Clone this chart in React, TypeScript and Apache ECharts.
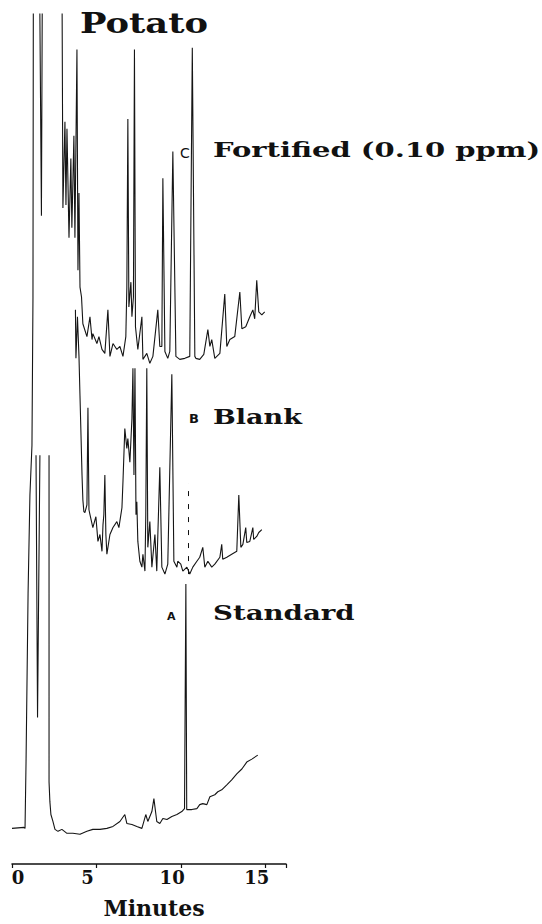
import React, { useEffect, useRef } from "react";
import * as echarts from "echarts";

// Chromatograms: [retention time (min), detector signal (arbitrary units, stacked)]
// null signal = pen off-scale (trace broken)
const standardTrace: [number, number | null][] = [
  [0, 36], [0.71, 37], [0.77, 36], [0.83, 103], [0.95, 273], [1.06, 373], [1.18, 423],
  [1.24, 573], [1.26, 858], [1.27, 920], [1.3, null],
  [1.42, 413], [1.51, 148], [1.65, 413], [1.8, null],
  [2.19, 413], [2.19, 83], [2.24, 63], [2.3, 50], [2.42, 43], [2.54, 35], [2.72, 33],
  [2.95, 35], [3.25, 31], [3.6, 31], [4.02, 30], [4.43, 33], [4.78, 35], [5.2, 35],
  [5.61, 36], [5.97, 38], [6.38, 43], [6.67, 50], [6.79, 41], [7.09, 40], [7.38, 38],
  [7.68, 36], [7.91, 50], [8.03, 43], [8.27, 53], [8.39, 66], [8.56, 43], [8.74, 41],
  [8.92, 46], [9.16, 45], [9.45, 48], [9.75, 50], [10.04, 53], [10.2, 56], [10.28, 283],
  [10.33, 55], [10.63, 55], [10.93, 56], [11.1, 60], [11.28, 61], [11.52, 60], [11.7, 68],
  [11.99, 70], [12.17, 73], [12.4, 75], [12.7, 80], [12.99, 85], [13.29, 91], [13.59, 96],
  [13.88, 103], [14.18, 106], [14.53, 110],
];

const blankTrace: [number, number][] = [
  [3.75, 560], [3.78, 511], [3.87, 553], [3.96, 513], [4.02, 473], [4.08, 433], [4.14, 393],
  [4.19, 368], [4.25, 356], [4.31, 355], [4.43, 363], [4.49, 461], [4.55, 358], [4.61, 353],
  [4.78, 340], [4.96, 351], [5.08, 326], [5.2, 333], [5.32, 316], [5.38, 343], [5.43, 353],
  [5.49, 393], [5.55, 333], [5.61, 313], [5.79, 333], [5.97, 340], [6.2, 346], [6.32, 340],
  [6.5, 360], [6.56, 386], [6.67, 440], [6.79, 420], [6.85, 430], [6.97, 406], [7.09, 450],
  [7.15, 501], [7.21, 393], [7.27, 501], [7.33, 353], [7.38, 366], [7.44, 326], [7.56, 306],
  [7.68, 300], [7.74, 313], [7.86, 296], [7.91, 353], [7.97, 501], [8.03, 320], [8.15, 346],
  [8.27, 300], [8.45, 333], [8.56, 296], [8.74, 401], [8.86, 300], [9.04, 293], [9.21, 303],
  [9.45, 495], [9.57, 306], [9.75, 300], [9.8, 306], [9.98, 303], [10.1, 296], [10.34, 300],
  [10.51, 293], [10.69, 300], [10.93, 306], [11.1, 310], [11.28, 320], [11.4, 300],
  [11.58, 306], [11.81, 300], [11.99, 303], [12.29, 310], [12.4, 323], [12.46, 308],
  [12.7, 310], [12.99, 313], [13.29, 316], [13.41, 373], [13.53, 320], [13.65, 323],
  [13.82, 340], [13.88, 325], [14.06, 326], [14.24, 340], [14.29, 328], [14.47, 331],
  [14.59, 335], [14.77, 338],
];

const fortifiedTrace: [number, number][] = [
  [1.62, 920], [1.74, 655], [1.8, 920], [2.95, 920], [3.01, 663], [3.13, 750], [3.19, 666],
  [3.25, 743], [3.37, 633], [3.48, 713], [3.54, 643], [3.66, 736], [3.72, 633], [3.84, 823],
  [3.9, 600], [3.96, 678], [4.02, 583], [4.11, 573], [4.19, 546], [4.43, 533], [4.61, 553],
  [4.73, 530], [4.78, 536], [5.02, 526], [5.14, 533], [5.32, 520], [5.49, 516], [5.67, 560],
  [5.79, 513], [5.97, 526], [6.2, 520], [6.38, 523], [6.56, 513], [6.73, 533], [6.79, 583],
  [6.85, 753], [6.91, 563], [7.03, 588], [7.09, 553], [7.18, 573], [7.24, 823], [7.3, 543],
  [7.44, 520], [7.68, 553], [7.74, 510], [7.97, 516], [8.15, 506], [8.33, 513], [8.62, 560],
  [8.74, 523], [8.86, 523], [8.92, 693], [9.04, 518], [9.21, 511], [9.33, 518], [9.51, 720],
  [9.69, 513], [9.92, 510], [10.22, 511], [10.51, 513], [10.66, 825], [10.81, 513],
  [10.87, 511], [11.1, 510], [11.34, 515], [11.58, 540], [11.7, 523], [11.81, 530],
  [11.99, 511], [12.29, 516], [12.58, 576], [12.7, 523], [12.88, 530], [13.17, 533],
  [13.47, 578], [13.59, 541], [13.82, 543], [14.06, 553], [14.24, 560], [14.35, 551],
  [14.47, 590], [14.59, 558], [14.77, 555], [14.94, 558],
];

// Expected analyte retention time marked on the blank
const blankMarker: [number, number, number] = [10.4, 293, 385];

const xTickValues = [0, 5, 10, 15];
const xMin = 0;
const xMax = 16.2;
const yMax = 859;

const FONT = "'DejaVu Serif', 'Liberation Serif', serif";

export default function App() {
  const ref = useRef<HTMLDivElement>(null);

  useEffect(() => {
    document.body.style.margin = "0";
    if (!ref.current) return;
    const chart = echarts.init(ref.current, undefined, { renderer: "svg" });
    const toData = (arr: [number, number | null][]) =>
      arr.map(([t, v]) => [t, v === null ? "-" : v]);
    const lineCommon = {
      type: "line" as const,
      showSymbol: false,
      symbol: "none",
      clip: true,
      connectNulls: false,
      lineStyle: { color: "#151515", width: 1.1 },
      itemStyle: { color: "#151515" },
      silent: true,
    };
    chart.setOption({
      animation: false,
      backgroundColor: "#ffffff",
      grid: { left: 12, top: 14, width: 274, height: yMax, containLabel: false },
      xAxis: {
        type: "value",
        min: xMin,
        max: xMax,
        interval: 5,
        axisLine: { show: true, onZero: false, lineStyle: { color: "#111", width: 1.5 } },
        axisTick: { show: true, length: 4, lineStyle: { color: "#111", width: 1.2 } },
        splitLine: { show: false },
        axisLabel: {
          margin: 4,
          color: "#111",
          fontFamily: FONT,
          fontWeight: "bold",
          fontSize: 18,
          customValues: xTickValues,
          formatter: (v: number) => (v === 0 ? "{z|" + v + "}" : "{n|" + v + "}"),
          rich: {
            z: { fontFamily: FONT, fontWeight: "bold", fontSize: 18, color: "#111", padding: [0, 0, 0, 12] },
            n: { fontFamily: FONT, fontWeight: "bold", fontSize: 18, color: "#111", padding: [0, 18, 0, 0] },
          },
        },
        name: "Minutes",
        nameLocation: "middle",
        nameGap: 33,
        nameTextStyle: {
          fontFamily: FONT,
          fontWeight: "bold",
          fontSize: 22,
          color: "#111",
          padding: [0, 0, 0, 10],
        },
      },
      yAxis: { type: "value", min: 0, max: yMax, show: false },
      graphic: [
        { type: "text", x: 80, y: 23, scaleX: 1.26, style: { text: "Potato", fontFamily: FONT, fontWeight: "bold", fontSize: 28, fill: "#111", verticalAlign: "middle" } },
        { type: "text", x: 180, y: 153, style: { text: "C", fontFamily: "'DejaVu Sans', sans-serif", fontSize: 14, fill: "#111", verticalAlign: "middle" } },
        { type: "text", x: 213, y: 150, scaleX: 1.45, style: { text: "Fortified (0.10 ppm)", fontFamily: FONT, fontWeight: "bold", fontSize: 20, fill: "#111", verticalAlign: "middle" } },
        { type: "text", x: 189, y: 418, style: { text: "B", fontFamily: "'DejaVu Sans', sans-serif", fontWeight: "bold", fontSize: 13, fill: "#111", verticalAlign: "middle" } },
        { type: "text", x: 213, y: 417, scaleX: 1.35, style: { text: "Blank", fontFamily: FONT, fontWeight: "bold", fontSize: 20, fill: "#111", verticalAlign: "middle" } },
        { type: "text", x: 167, y: 616, style: { text: "A", fontFamily: "'DejaVu Sans', sans-serif", fontWeight: "bold", fontSize: 11, fill: "#111", verticalAlign: "middle" } },
        { type: "text", x: 213, y: 613, scaleX: 1.38, style: { text: "Standard", fontFamily: FONT, fontWeight: "bold", fontSize: 20, fill: "#111", verticalAlign: "middle" } },
      ],
      series: [
        { ...lineCommon, name: "Standard", data: toData(standardTrace) },
        {
          ...lineCommon,
          name: "Blank",
          data: toData(blankTrace),
          markLine: {
            silent: true,
            symbol: "none",
            label: { show: false },
            lineStyle: { color: "#111", width: 1, type: [5, 8] },
            data: [[{ coord: [blankMarker[0], blankMarker[1]] }, { coord: [blankMarker[0], blankMarker[2]] }]],
          },
        },
        { ...lineCommon, name: "Fortified (0.10 ppm)", data: toData(fortifiedTrace) },
      ],
    });
    return () => chart.dispose();
  }, []);

  return (
    <div
      ref={ref}
      style={{ position: "absolute", left: 0, top: 0, width: 542, height: 924, background: "#fff" }}
    />
  );
}
